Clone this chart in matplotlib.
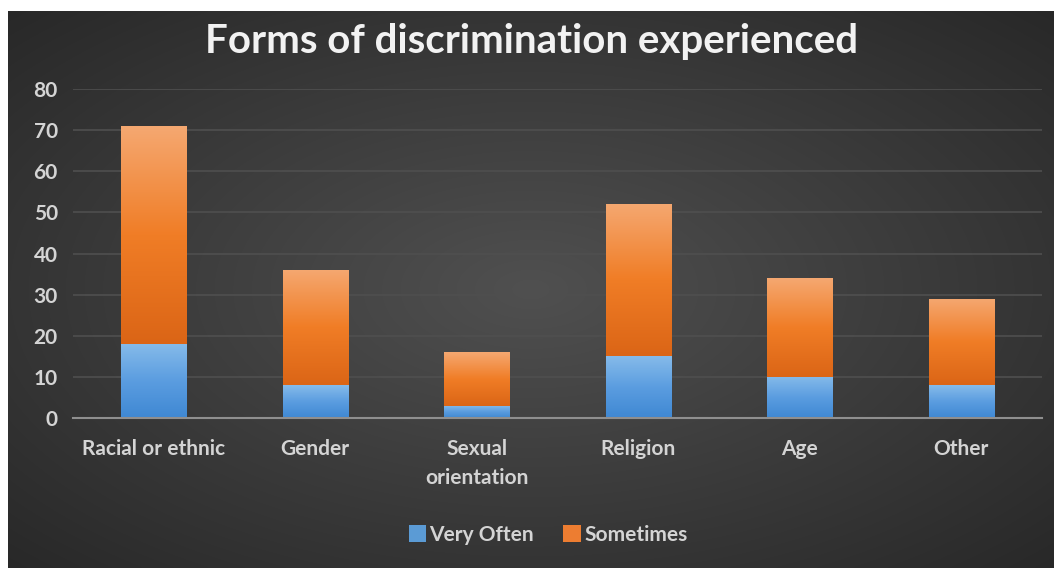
import numpy as np
import matplotlib
matplotlib.use("Agg")
import matplotlib.pyplot as plt
from matplotlib.colors import LinearSegmentedColormap

categories = ["Racial or ethnic", "Gender", "Sexual\norientation", "Religion", "Age", "Other"]
very_often = [18, 8, 3, 15, 10, 8]
sometimes = [53, 28, 13, 37, 24, 21]
series_names = ["Very Often", "Sometimes"]
yticks = [0, 10, 20, 30, 40, 50, 60, 70, 80]
title = "Forms of discrimination experienced"

plt.rcParams['font.family'] = ['Lato', 'DejaVu Sans']

W, H = 1054, 568
fig = plt.figure(figsize=(W / 100, H / 100), dpi=100)
fig.patch.set_facecolor("white")

# background with radial gradient
bg = fig.add_axes([8 / W, 0, 1 - 8 / W, 1 - 11 / H])
bg.set_axis_off()
yy, xx = np.mgrid[0:1:300j, 0:1:560j]
r = np.sqrt(((xx - 0.5) / 0.75) ** 2 + ((yy - 0.5) / 0.75) ** 2)
r = np.clip(r / 0.95, 0, 1)
c_center = np.array([0x50, 0x50, 0x50]) / 255
c_edge = np.array([0x28, 0x28, 0x28]) / 255
img = c_center[None, None, :] * (1 - r[..., None]) + c_edge[None, None, :] * r[..., None]
bg.imshow(img, extent=[0, 1, 0, 1], aspect="auto", interpolation="bilinear")
bg.set_xlim(0, 1)
bg.set_ylim(0, 1)

ax = fig.add_axes([73 / W, 1 - 418 / H, (1042 - 73) / W, (418 - 89) / H])
ax.patch.set_alpha(0)
x = np.arange(len(categories))
width = 0.405

blue_cmap = LinearSegmentedColormap.from_list("b", ["#3f88d3", "#5b9de0", "#86bbea"])
orange_cmap = LinearSegmentedColormap.from_list("o", ["#db6516", "#f07d26", "#f5a871"])

b1 = ax.bar(x, very_often, width, color="#5b9bd5", label=series_names[0], zorder=3)
b2 = ax.bar(x, sometimes, width, bottom=very_often, color="#ed7d31", label=series_names[1], zorder=3)

grad = np.linspace(0, 1, 256).reshape(-1, 1)
for bars, cmap in ((b1, blue_cmap), (b2, orange_cmap)):
    for p in bars:
        x0, y0 = p.get_x(), p.get_y()
        w, h = p.get_width(), p.get_height()
        im = ax.imshow(grad, cmap=cmap, origin="lower", aspect="auto",
                       extent=[x0, x0 + w, y0, y0 + h], zorder=4, interpolation="bilinear")
        im.set_clip_path(p)

ax.set_xlim(-0.5, len(categories) - 0.5)
ax.set_ylim(0, 80)
ax.set_yticks(yticks)
ax.set_xticks(x)
ax.set_xticklabels(categories, linespacing=1.6)
ax.tick_params(axis="both", length=0, colors="#d4d4d4", labelsize=15)
ax.tick_params(axis="x", pad=15)
ax.tick_params(axis="y", pad=11)
for lab in ax.get_yticklabels() + ax.get_xticklabels():
    lab.set_fontweight("bold")
for lab in ax.get_xticklabels():
    lab.set_verticalalignment("top")
ax.grid(axis="y", color="#4f4f4f", linewidth=1.2, zorder=0)
for s in ["top", "right", "left"]:
    ax.spines[s].set_visible(False)
ax.spines["bottom"].set_color("#8f8f8f")
ax.spines["bottom"].set_linewidth(1.5)
ax.spines["bottom"].set_zorder(5)

fig.text(532 / W, 1 - 42 / H, title, ha="center", va="center",
         fontsize=29, fontweight="bold", color="#f2f2f2")

leg = fig.legend(handles=[b1, b2], labels=series_names, loc="center",
                 bbox_to_anchor=(548 / W, 1 - 535 / H), ncol=2, frameon=False,
                 prop={"size": 15, "weight": "bold"}, labelcolor="#d4d4d4",
                 handlelength=0.85, handleheight=0.85,
                 handletextpad=0.15, columnspacing=1.4)

fig.savefig("out.png", dpi=100, facecolor=fig.get_facecolor())
